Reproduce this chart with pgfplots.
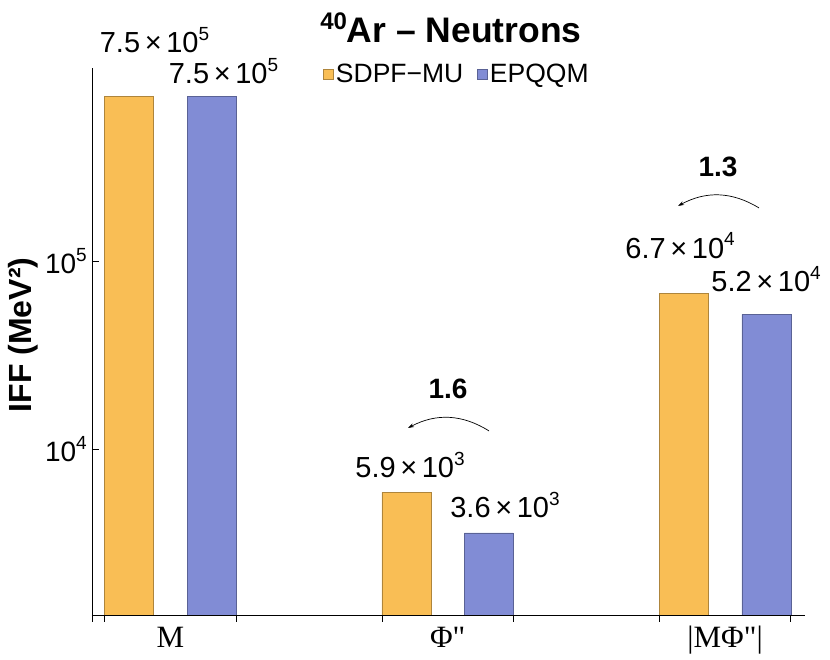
\documentclass[border=0pt]{standalone}
\usepackage{fontspec}
\setmainfont{Liberation Sans}
\newfontfamily\tnr{Liberation Serif}
\usepackage{pgfplots}
\pgfplotsset{compat=1.18}
\usetikzlibrary{arrows.meta}

\definecolor{orng}{RGB}{249,190,85}
\definecolor{blu}{RGB}{129,140,213}

\newcommand{\sci}[2]{#1\hspace{0.16em}×\hspace{0.16em}10\raisebox{0.43em}{\fontsize{19}{19}\selectfont #2}}
\newcommand{\lblfont}{\fontsize{29}{34}\selectfont}

\begin{document}
\begin{tikzpicture}
\useasboundingbox (-92pt,-45pt) rectangle (738pt,615pt);
\begin{axis}[
  at={(0pt,0pt)}, anchor=south west,
  scale only axis, width=713pt, height=547pt,
  ymode=log, ymin=1318, ymax=1.059e6,
  xmin=-0.2822, xmax=2.288,
  clip=true, clip mode=individual,
  axis x line*=bottom, axis y line*=left,
  axis line style={line width=0.9pt, black},
  every tick/.style={line width=0.9pt, black},
  xtick={-0.2815,-0.237,0.237,0.763,1.237,1.763,2.237},
  xticklabels={},
  xtick align=outside, ytick align=inside,
  major tick length=7pt,
  ytick={1e4,1e5},
  yminorticks=false,
  yticklabels={10\raisebox{0.43em}{\fontsize{19}{19}\selectfont 4}, 10\raisebox{0.43em}{\fontsize{19}{19}\selectfont 5}},
  yticklabel style={font=\fontsize{28}{32}\selectfont, inner xsep=5pt},
  legend style={at={(0.5119,0.989)}, anchor=center, draw=none, fill=none,
    font=\fontsize{26.5}{30}\selectfont, legend columns=2,
    nodes={inner xsep=2pt, inner ysep=1pt},
    /tikz/every even column/.append style={column sep=12pt}},
]
\addplot[ybar, bar width=0.1767, bar shift=-0.1487, fill=orng, draw=orng!70!black, line width=0.5pt,
  legend image code/.code={\draw[fill=orng, draw=orng!70!black, line width=0.6pt] (0pt,-5pt) rectangle (10pt,5pt);}]
  coordinates {(0,7.5e5) (1,5.9e3) (2,6.7e4)};
\addlegendentry{SDPF−MU}
\addplot[ybar, bar width=0.1767, bar shift=0.1487, fill=blu, draw=blu!70!black, line width=0.5pt,
  legend image code/.code={\draw[fill=blu, draw=blu!70!black, line width=0.6pt] (0pt,-5pt) rectangle (10pt,5pt);}]
  coordinates {(0,7.5e5) (1,3.6e3) (2,5.2e4)};
\addlegendentry{EPQQM}

% value labels
\node[anchor=base, font=\lblfont] at (axis cs:-0.0568,1.272e6) {\sci{7.5}{5}};
\node[anchor=base, font=\lblfont] at (axis cs:0.192,8.71e5) {\sci{7.5}{5}};
\node[anchor=base, font=\lblfont] at (axis cs:0.8643,7040) {\sci{5.9}{3}};
\node[anchor=base, font=\lblfont] at (axis cs:1.2067,4318) {\sci{3.6}{3}};
\node[anchor=base, font=\lblfont] at (axis cs:1.8376,1.037e5) {\sci{6.7}{4}};
\node[anchor=base, font=\lblfont] at (axis cs:2.1476,6.846e4) {\sci{5.2}{4}};

% ratio annotations
\node[anchor=base, font=\bfseries\fontsize{28}{32}\selectfont] at (axis cs:1.0013,18500) {1.6};
\draw[-{Stealth[length=6pt,width=4pt]}, line width=0.7pt] (axis cs:1.1491,12510) to[bend right=30] (axis cs:0.8571,12977);
\node[anchor=base, font=\bfseries\fontsize{28}{32}\selectfont] at (axis cs:1.9747,2.794e5) {1.3};
\draw[-{Stealth[length=6pt,width=4pt]}, line width=0.7pt] (axis cs:2.1224,1.912e5) to[bend right=30] (axis cs:1.8305,1.960e5);

% category labels
\node[anchor=base, font=\tnr\fontsize{31}{36}\selectfont] at ([yshift=-33pt]axis cs:0,1318) {M};
\node[anchor=base, font=\tnr\fontsize{31}{36}\selectfont] at ([yshift=-33pt]axis cs:1,1318) {Φ"};
\node[anchor=base, font=\tnr\fontsize{31}{36}\selectfont] at ([yshift=-33pt]axis cs:2,1318) {|MΦ"|};

% title and y label
\node[anchor=base, font=\bfseries\fontsize{35.5}{40}\selectfont] at (rel axis cs:0.5035,1.0457) {\raisebox{0.39em}{\fontsize{24}{24}\selectfont 40}Ar – Neutrons};
\node[rotate=90, anchor=center, font=\bfseries\fontsize{32}{38}\selectfont] at (rel axis cs:-0.096,0.5119) {IFF (MeV²)};
\end{axis}
\end{tikzpicture}
\end{document}
